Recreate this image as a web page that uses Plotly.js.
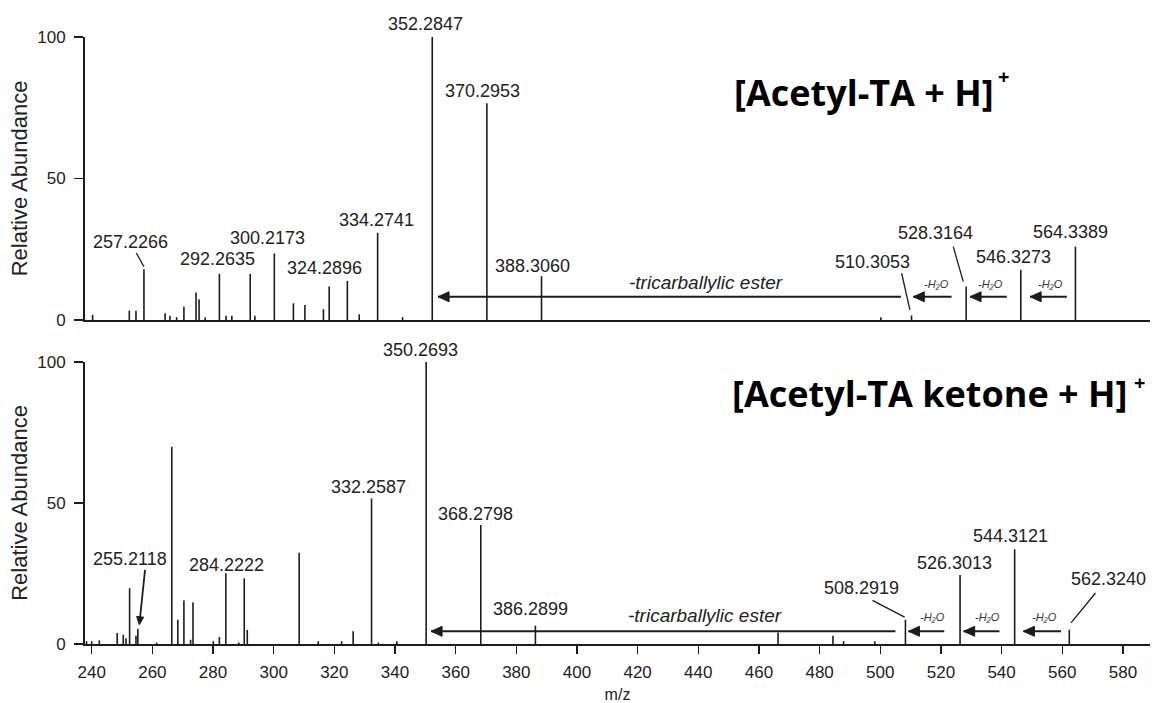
<!DOCTYPE html>
<html>
<head>
<meta charset="utf-8">
<script src="https://cdn.plot.ly/plotly-3.0.1.min.js"></script>
<style>html,body{margin:0;padding:0;background:#fff;}#chart{width:1152px;height:703px;}</style>
</head>
<body>
<div id="chart"></div>
<script>
// ---------- DATA ----------
// Top panel: [Acetyl-TA + H]+  (m/z, relative abundance)
const topMz = [240.3, 252.4, 254.6, 257.2266, 264.2, 265.8, 268.0, 270.4, 274.4, 275.4, 277.4, 282.1, 284.3, 286.2,
  292.2635, 293.8, 300.2173, 306.5, 310.3, 316.4, 318.3, 324.2896, 328.2, 334.2741, 342.5, 352.2847, 370.2953,
  388.3060, 500.2, 510.3053, 528.3164, 546.3273, 564.3389];
const topAb = [1.8, 3.3, 3.3, 17.9, 2.4, 1.5, 1.0, 4.7, 9.7, 7.3, 1.0, 16.3, 1.5, 1.5,
  16.3, 1.5, 23.5, 5.9, 5.3, 3.8, 11.8, 13.8, 2.0, 30.8, 1.0, 100, 76.6,
  15.5, 1.0, 1.6, 11.8, 17.7, 25.9];
const topLabelMz = [257.2266, 292.2635, 300.2173, 324.2896, 334.2741, 352.2847, 370.2953, 388.3060,
  510.3053, 528.3164, 546.3273, 564.3389];

// Bottom panel: [Acetyl-TA ketone + H]+
const botMz = [238.3, 240.0, 242.5, 248.4, 250.4, 251.3, 252.5, 254.6, 255.2118, 261.4, 266.4, 268.4, 270.4,
  272.6, 273.4, 280.1, 282.1, 284.2222, 288.5, 290.3, 291.3, 308.4, 314.7, 322.4, 326.2, 332.2587, 334.5,
  340.6, 350.2693, 368.2798, 386.2899, 466.3, 484.4, 487.9, 498.2, 508.2919, 526.3013, 544.3121, 562.3240];
const botAb = [1.0, 1.0, 1.3, 3.9, 3.3, 2.0, 19.8, 2.9, 5.4, 0.5, 69.9, 8.6, 15.4,
  1.5, 14.8, 1.0, 2.5, 25.1, 0.5, 23.3, 5.0, 32.4, 1.0, 1.0, 4.5, 51.6, 0.5,
  1.0, 100, 42.2, 6.5, 4.1, 2.9, 1.0, 1.0, 8.6, 24.5, 33.6, 5.1];
const botLabelMz = [255.2118, 284.2222, 332.2587, 350.2693, 368.2798, 386.2899, 508.2919, 526.3013, 544.3121, 562.3240];

const titleTop = '[Acetyl-TA + H]';
const titleBot = '[Acetyl-TA ketone + H]';
const chargeText = '+';
const esterText = '-tricarballylic ester';
const waterText = '-H\u2082O';
const xTickVals = [240, 260, 280, 300, 320, 340, 360, 380, 400, 420, 440, 460, 480, 500, 520, 540, 560, 580];
const yTickVals = [0, 50, 100];

// Neutral-loss arrows [from m/z, to m/z]
const lossTop = [[506.8, 354.2], [523.5, 510.9], [541.7, 529.6], [561.5, 549.4]];
const lossBot = [[505.0, 351.9], [521.1, 509.3], [539.3, 527.5], [559.6, 547.2]];
const waterTopMz = [518.6, 536.2, 556.0];
const waterBotMz = [517.2, 535.4, 554.3];

// ---------- STYLE / PLACEMENT ----------
const FONT = 'Liberation Sans, Arial, sans-serif';
const TFONT = 'Open Sans, sans-serif';
const INK = '#1c1c1c';
const arrowLevel = {top: 8.2, bot: 4.5};
const lossTextLevel = {topEster: [442.4, 13.2], topWater: 12.6, botEster: [442.1, 10.0], botWater: 9.6};
// label text shifts (px) relative to peak tip
const topShift = [[-13.3,27.6],[-32.7,14.6],[-6.8,15.2],[-23.3,12.6],[-1.6,12.8],[-6.6,13],[-4.3,12.5],[-8.6,10.4],[-39.1,53.8],[-30.4,53.3],[-7,13.2],[-4.9,15]];
const botShift = [[-7.5,69.7],[0.2,8.3],[-3.2,11.7],[-6.1,11.6],[-5.2,11],[-4.8,16.6],[-44.4,31.7],[-5.4,11.7],[-4.1,13.3],[39.4,50.6]];
// leader lines (px from peak tip, y up): index -> [tailDx, tailDy, headDx, headDy]
const topLeaders = {0: [-7.6,16.3,0,2.6], 8: [-9.9,42.2,-1.6,5.5], 9: [-12.9,39.9,-2.9,4.9]};
const botLeaders = {0: [7.2,59,1.9,8], 6: [-33,19.3,-0.8,2.7], 9: [26.2,36.6,1.7,6.7]};
const botArrowHead = {0: 'M1.5,4 L5.8,11.6 L-1.2,12.3 Z'};
const lossHeadPath = 'M0,0 L11,5 L11,-5 Z';
// panel titles: [x domain frac, y domain frac] for text, and for the charge sign
const titlePos = {top: [0.6075, 0.805], bot: [0.6055, 0.89]};
const chargePos = {top: [0.8625, 0.862], bot: [0.9905, 0.927]};

function sticks(mz, ab, xa, ya) {
  const x = [], y = [];
  mz.forEach((m, i) => { x.push(m, m, null); y.push(0, ab[i], null); });
  return {type: 'scatter', mode: 'lines', x, y, xaxis: xa, yaxis: ya,
    line: {color: INK, width: 1.6}, hoverinfo: 'skip', showlegend: false};
}

const annotations = [];
const shapes = [];
function addLabels(labelMz, mz, ab, shifts, leaders, heads, xr, yr) {
  labelMz.forEach((m, i) => {
    const h = ab[mz.indexOf(m)];
    annotations.push({x: m, y: h, xref: xr, yref: yr, text: m.toFixed(4), showarrow: false,
      xanchor: 'center', yanchor: 'middle', xshift: shifts[i][0], yshift: shifts[i][1],
      font: {family: FONT, size: 18, color: '#222'}});
    if (leaders[i]) {
      const L = leaders[i];
      shapes.push({type: 'line', xref: xr, yref: yr, xsizemode: 'pixel', ysizemode: 'pixel',
        xanchor: m, yanchor: h, x0: L[0], y0: L[1], x1: L[2], y1: L[3],
        line: {color: INK, width: heads[i] ? 1.8 : 1.3}});
    }
    if (heads[i]) {
      shapes.push({type: 'path', xref: xr, yref: yr, xsizemode: 'pixel', ysizemode: 'pixel',
        xanchor: m, yanchor: h, path: heads[i], fillcolor: INK, line: {color: INK, width: 1}});
    }
  });
}
addLabels(topLabelMz, topMz, topAb, topShift, topLeaders, {}, 'x', 'y');
addLabels(botLabelMz, botMz, botAb, botShift, botLeaders, botArrowHead, 'x2', 'y2');

function addLoss(loss, level, ester, waterMz, waterLevel, xr, yr) {
  loss.forEach(([from, to]) => {
    shapes.push({type: 'line', xref: xr, yref: yr, x0: from, x1: to, y0: level, y1: level,
      line: {color: INK, width: 2}});
    shapes.push({type: 'path', xref: xr, yref: yr, xsizemode: 'pixel', ysizemode: 'pixel',
      xanchor: to, yanchor: level, path: lossHeadPath, fillcolor: INK, line: {color: INK, width: 1}});
  });
  annotations.push({x: ester[0], y: ester[1], xref: xr, yref: yr, text: esterText, showarrow: false,
    font: {family: FONT, size: 19, style: 'italic', color: '#222'}});
  waterMz.forEach(m => annotations.push({x: m, y: waterLevel, xref: xr, yref: yr, text: waterText,
    showarrow: false, font: {family: FONT, size: 11, style: 'italic', color: '#333'}}));
}
addLoss(lossTop, arrowLevel.top, lossTextLevel.topEster, waterTopMz, lossTextLevel.topWater, 'x', 'y');
addLoss(lossBot, arrowLevel.bot, lossTextLevel.botEster, waterBotMz, lossTextLevel.botWater, 'x2', 'y2');

function addTitle(text, pos, cpos, xd, yd) {
  annotations.push({xref: xd, yref: yd, x: pos[0], y: pos[1], xanchor: 'left', yanchor: 'middle',
    text: text, showarrow: false, font: {family: TFONT, size: 36, weight: 'bold', color: '#000'}});
  annotations.push({xref: xd, yref: yd, x: cpos[0], y: cpos[1], xanchor: 'center', yanchor: 'middle',
    text: chargeText, showarrow: false, font: {family: TFONT, size: 20, weight: 'bold', color: '#000'}});
}
addTitle(titleTop, titlePos.top, chargePos.top, 'x domain', 'y domain');
addTitle(titleBot, titlePos.bot, chargePos.bot, 'x2 domain', 'y2 domain');

const xr = [237.79, 588.93];
const axisCommon = {showgrid: false, zeroline: false, showline: true, linecolor: INK, linewidth: 2};
const yAxis = (dom) => Object.assign({}, axisCommon, {
  domain: dom, range: [0, 100], tickvals: yTickVals, ticks: 'outside', ticklen: 9, tickwidth: 1.5,
  tickcolor: INK, ticklabelstandoff: 5, tickfont: {family: FONT, size: 17, color: '#222'},
  title: {text: 'Relative Abundance', font: {family: FONT, size: 22, color: '#222'}, standoff: 4}});

const layout = {
  width: 1152, height: 703,
  margin: {l: 85, r: 2, t: 37, b: 59},
  paper_bgcolor: '#fff', plot_bgcolor: '#fff',
  showlegend: false,
  xaxis: Object.assign({}, axisCommon, {domain: [0, 1], range: xr, anchor: 'y', showticklabels: false, ticks: ''}),
  yaxis: yAxis([0.5338, 1]),
  xaxis2: Object.assign({}, axisCommon, {domain: [0, 1], range: xr, anchor: 'y2', tickvals: xTickVals,
    ticks: 'outside', ticklen: 8, tickwidth: 1.5, tickcolor: INK, ticklabelstandoff: 4,
    tickfont: {family: FONT, size: 17, color: '#222'},
    title: {text: 'm/z', font: {family: FONT, size: 16, color: '#222'}, standoff: 9}}),
  yaxis2: yAxis([0, 0.4646]),
  annotations, shapes
};

Plotly.newPlot('chart', [sticks(topMz, topAb, 'x', 'y'), sticks(botMz, botAb, 'x2', 'y2')], layout,
  {displayModeBar: false, staticPlot: true});
</script>
</body>
</html>
